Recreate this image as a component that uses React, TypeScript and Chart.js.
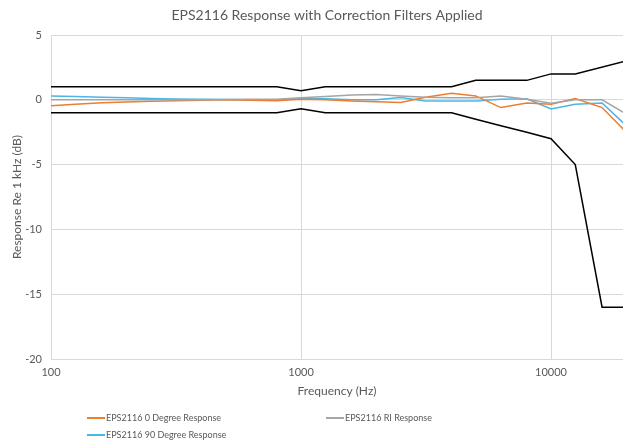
import React, { useEffect, useRef } from "react";
import { Chart, registerables } from "chart.js";

Chart.register(...registerables);

const FONT = "Lato";
const TEXT_COLOR = "#595959";
const GRID_COLOR = "#d9d9d9";

const titleText = "EPS2116 Response with Correction Filters Applied";
const xTitle = "Frequency (Hz)";
const yTitle = "Response Re 1 kHz (dB)";

const freqs = [100, 125, 160, 200, 250, 315, 400, 500, 630, 800, 1000, 1250, 1600, 2000, 2500, 3150, 4000, 5000, 6300, 8000, 10000, 12500, 16000, 20000];
const deg0 = [-0.45, -0.35, -0.22, -0.17, -0.12, -0.08, -0.03, 0.0, -0.03, -0.07, 0.05, 0.0, -0.1, -0.15, -0.2, 0.2, 0.5, 0.3, -0.6, -0.25, -0.35, 0.1, -0.6, -2.5];
const ri = [0.0, 0.0, 0.0, 0.0, 0.0, 0.0, 0.0, 0.02, 0.05, 0.05, 0.15, 0.25, 0.37, 0.4, 0.3, 0.2, 0.15, 0.15, 0.3, 0.05, -0.27, 0.0, 0.0, -1.1];
const deg90 = [0.3, 0.25, 0.2, 0.15, 0.1, 0.07, 0.05, 0.03, 0.0, 0.0, 0.08, 0.08, 0.0, 0.0, 0.17, -0.1, -0.1, -0.1, 0.05, 0.08, -0.7, -0.35, -0.25, -2.0];

const upperFreqs = [100, 800, 1000, 1250, 4000, 5000, 8000, 10000, 12500, 20000];
const upperVals = [1, 1, 0.7, 1, 1, 1.5, 1.5, 2, 2, 3];
const lowerFreqs = [100, 800, 1000, 1250, 4000, 5000, 6300, 8000, 10000, 12500, 16000, 20000];
const lowerVals = [-1, -1, -0.7, -1, -1, -1.5, -2, -2.5, -3, -5, -16, -16];

const xTicks = [100, 1000, 10000];
const xMin = 100;
const xMax = 19400;
const yMin = -20;
const yMax = 5;
const yStep = 5;

const legendNames = ["EPS2116 0 Degree Response", "EPS2116 RI Response", "EPS2116 90 Degree Response"];
const colors = ["#ED7D31", "#A5A5A5", "#4CB5E6"];

const toXY = (xs: number[], ys: number[]) => xs.map((x, i) => ({ x, y: ys[i] }));

const decorPlugin = {
  id: "decor",
  afterDraw(chart: any) {
    const ctx = chart.ctx;
    const area = chart.chartArea;
    ctx.save();
    // Title
    ctx.fillStyle = TEXT_COLOR;
    ctx.font = `14px ${FONT}`;
    ctx.textAlign = "center";
    ctx.textBaseline = "middle";
    ctx.fillText(titleText, (area.left + area.right) / 2 - 10, 15);
    // Legend
    ctx.font = `9px ${FONT}`;
    ctx.textAlign = "left";
    const items = [
      { c: colors[0], t: legendNames[0], x: 87, y: 418 },
      { c: colors[1], t: legendNames[1], x: 326, y: 418 },
      { c: colors[2], t: legendNames[2], x: 87, y: 435 },
    ];
    items.forEach((it) => {
      ctx.strokeStyle = it.c;
      ctx.lineWidth = 2;
      ctx.beginPath();
      ctx.moveTo(it.x, it.y);
      ctx.lineTo(it.x + 18, it.y);
      ctx.stroke();
      ctx.fillStyle = TEXT_COLOR;
      ctx.fillText(it.t, it.x + 19, it.y);
    });
    ctx.restore();
  },
};

export default function App() {
  const ref = useRef<HTMLCanvasElement | null>(null);
  useEffect(() => {
    if (!ref.current) return;
    const lineBase = { pointRadius: 0, borderWidth: 1.5, fill: false, tension: 0 };
    const chart = new Chart(ref.current, {
      type: "line",
      data: {
        datasets: [
          { ...lineBase, label: "Upper", data: toXY(upperFreqs, upperVals), borderColor: "#000000" },
          { ...lineBase, label: "Lower", data: toXY(lowerFreqs, lowerVals), borderColor: "#000000" },
          { ...lineBase, label: legendNames[1], data: toXY(freqs, ri), borderColor: colors[1] },
          { ...lineBase, label: legendNames[0], data: toXY(freqs, deg0), borderColor: colors[0] },
          { ...lineBase, label: legendNames[2], data: toXY(freqs, deg90), borderColor: colors[2] },
        ],
      },
      options: {
        responsive: false,
        animation: false,
        layout: { padding: { top: 35, bottom: 37, left: 0, right: 0 } },
        plugins: { legend: { display: false }, title: { display: false }, tooltip: { enabled: false } },
        scales: {
          x: {
            type: "logarithmic",
            min: xMin,
            max: xMax,
            afterBuildTicks: (scale: any) => {
              scale.ticks = xTicks.map((v) => ({ value: v }));
            },
            afterFit: (scale: any) => {
              scale.height = 45;
            },
            ticks: {
              autoSkip: false,
              maxRotation: 0,
              color: TEXT_COLOR,
              font: { family: FONT, size: 11 },
              padding: 7,
              callback: (v: any) => String(v),
            },
            grid: { color: GRID_COLOR, drawTicks: false, lineWidth: 1 },
            border: { display: false },
            title: {
              display: true,
              text: xTitle,
              color: TEXT_COLOR,
              font: { family: FONT, size: 12 },
              padding: { top: 0, bottom: 6 },
            },
          },
          y: {
            min: yMin,
            max: yMax,
            afterFit: (scale: any) => {
              scale.width = 51;
            },
            ticks: {
              stepSize: yStep,
              color: TEXT_COLOR,
              font: { family: FONT, size: 11 },
              padding: 9,
            },
            grid: { color: GRID_COLOR, drawTicks: false, lineWidth: 1 },
            border: { display: false },
            title: {
              display: true,
              text: yTitle,
              color: TEXT_COLOR,
              font: { family: FONT, size: 12 },
              padding: { top: 10, bottom: 0 },
            },
          },
        },
      },
      plugins: [decorPlugin],
    } as any);
    return () => chart.destroy();
  }, []);
  return (
    <div style={{ position: "fixed", left: 0, top: 0, width: 623, height: 441, background: "#fff" }}>
      <canvas ref={ref} width={623} height={441} style={{ display: "block" }} />
    </div>
  );
}
